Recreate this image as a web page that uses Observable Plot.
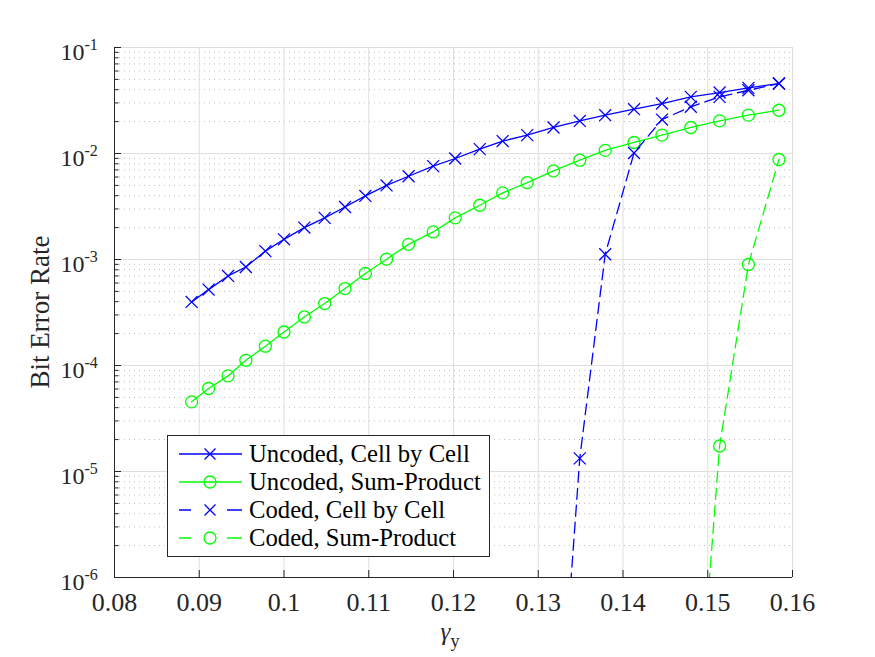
<!DOCTYPE html>
<html>
<head>
<meta charset="utf-8">
<script src="https://cdn.jsdelivr.net/npm/d3@7"></script>
<script src="https://cdn.jsdelivr.net/npm/@observablehq/plot@0.6"></script>
<style>
  html, body { margin: 0; padding: 0; background: #fff; }
  #chart svg { display: block; }
</style>
</head>
<body>
<div id="chart"></div>
<script>
// ---- data ----
const gamma = [0.0891,0.0911,0.0934,0.0955,0.0978,0.1000,0.1024,0.1048,0.1072,0.1096,0.1121,0.1147,0.1176,
               0.1202,0.1231,0.1258,0.1287,0.1318,0.1349,0.1379,0.1413,0.1446,0.1480,0.1514,0.1548,0.1584];
const uncodedCell = [3.98e-4,5.2e-4,7.0e-4,8.5e-4,1.2e-3,1.55e-3,2.0e-3,2.47e-3,3.13e-3,3.98e-3,5.0e-3,6.1e-3,7.6e-3,
                     8.97e-3,1.10e-2,1.31e-2,1.49e-2,1.76e-2,2.03e-2,2.30e-2,2.62e-2,2.96e-2,3.42e-2,3.76e-2,4.16e-2,4.57e-2];
const uncodedSP = [4.54e-5,6.07e-5,7.98e-5,1.12e-4,1.52e-4,2.07e-4,2.87e-4,3.84e-4,5.32e-4,7.38e-4,1.007e-3,1.39e-3,1.82e-3,
                   2.47e-3,3.25e-3,4.25e-3,5.32e-3,6.85e-3,8.65e-3,1.07e-2,1.27e-2,1.49e-2,1.76e-2,2.03e-2,2.30e-2,2.56e-2];
const codedCellGamma = [0.1318,0.1349,0.1379,0.1413,0.1446,0.1480,0.1514,0.1548,0.1584];
const codedCell = [5e-9,1.33e-5,1.12e-3,1.01e-2,2.09e-2,2.76e-2,3.42e-2,3.95e-2,4.57e-2];
const codedSPGamma = [0.1480,0.1514,0.1548,0.1584];
const codedSP = [5e-9,1.74e-5,8.97e-4,8.78e-3];

const seriesNames = ["Uncoded, Cell by Cell","Uncoded, Sum-Product","Coded, Cell by Cell","Coded, Sum-Product"];
const xTicks = [0.08,0.09,0.10,0.11,0.12,0.13,0.14,0.15,0.16];
const xTickLabels = ["0.08","0.09","0.1","0.11","0.12","0.13","0.14","0.15","0.16"];
const yMajor = [1e-6,1e-5,1e-4,1e-3,1e-2,1e-1];
const yExponents = ["-6","-5","-4","-3","-2","-1"];

const BLUE = "#0000ff", GREEN = "#00ff00", AX = "#262626";
const FONT = "'Liberation Serif', 'Times New Roman', serif";

const yMinor = [];
for (let e = -6; e < -1; e++) for (let m = 2; m <= 9; m++) yMinor.push(m * Math.pow(10, e));

const toRows = (xs, ys) => xs.map((x, i) => ({x, y: ys[i]}));
const s1 = toRows(gamma, uncodedCell);
const s2 = toRows(gamma, uncodedSP);
const s3 = toRows(codedCellGamma, codedCell);
const s4 = toRows(codedSPGamma, codedSP);
const xLab = xTicks.map((v, i) => ({v, t: xTickLabels[i]}));
const yLab = yMajor.map((v, i) => ({v, t: yExponents[i]}));

const W = 875, H = 657;
const chart = Plot.plot({
  width: W, height: H,
  marginLeft: 114, marginRight: 83, marginTop: 47, marginBottom: 80,
  style: {fontFamily: FONT, background: "white"},
  x: {domain: [0.08, 0.16], axis: null},
  y: {type: "log", domain: [1e-6, 1e-1], axis: null},
  marks: [
    Plot.ruleY(yMinor, {stroke: "#bdbdbd", strokeWidth: 1, strokeDasharray: "1,4"}),
    Plot.ruleY(yMajor, {stroke: "#dedede", strokeWidth: 1}),
    Plot.ruleX(xTicks, {stroke: "#dedede", strokeWidth: 1}),
    Plot.ruleX([0.08], {stroke: AX, strokeWidth: 1}),
    Plot.ruleY([1e-6], {stroke: AX, strokeWidth: 1}),
    Plot.axisY({ticks: yMajor, tickSize: -7, tickFormat: () => "", label: null, stroke: AX}),
    Plot.axisY({ticks: yMinor, tickSize: -4.5, tickFormat: () => "", label: null, stroke: AX}),
    Plot.axisX({ticks: xTicks, tickSize: -7, tickFormat: () => "", label: null, stroke: AX}),
    // data
    Plot.line(s1, {x: "x", y: "y", stroke: BLUE, strokeWidth: 1.3, clip: true}),
    Plot.dot(s1, {x: "x", y: "y", stroke: BLUE, symbol: "times", r: 5.5, strokeWidth: 1.3, clip: true}),
    Plot.line(s2, {x: "x", y: "y", stroke: GREEN, strokeWidth: 1.3, clip: true}),
    Plot.dot(s2, {x: "x", y: "y", stroke: GREEN, symbol: "circle", r: 6, strokeWidth: 1.3, clip: true}),
    Plot.line(s3, {x: "x", y: "y", stroke: BLUE, strokeWidth: 1.3, strokeDasharray: "11,6", clip: true}),
    Plot.dot(s3, {x: "x", y: "y", stroke: BLUE, symbol: "times", r: 5.5, strokeWidth: 1.3, clip: true}),
    Plot.line(s4, {x: "x", y: "y", stroke: GREEN, strokeWidth: 1.3, strokeDasharray: "11,6", clip: true}),
    Plot.dot(s4, {x: "x", y: "y", stroke: GREEN, symbol: "circle", r: 6, strokeWidth: 1.3, clip: true}),
    // tick labels
    Plot.text(xLab, {x: "v", y: () => 1e-6, text: "t", dy: 25, fontSize: 26, fill: AX}),
    Plot.text(yLab, {x: () => 0.08, y: "v", text: () => "10", dx: -30, dy: 5, textAnchor: "end", fontSize: 24, fill: AX}),
    Plot.text(yLab, {x: () => 0.08, y: "v", text: "t", dx: -30, dy: -3, textAnchor: "start", fontSize: 16, fill: AX})
  ]
});

const svg = d3.select(chart);
// axis titles
svg.append("text").attr("transform", "translate(40,312) rotate(-90)")
  .attr("text-anchor", "middle").attr("dy", "0.32em")
  .style("font-family", FONT).style("font-size", "27px").attr("fill", AX).text("Bit Error Rate");
const xl = svg.append("text").attr("x", 450).attr("y", 640).attr("text-anchor", "middle")
  .style("font-family", FONT).style("font-size", "25px").attr("fill", AX);
xl.append("tspan").style("font-style", "italic").text("γ");
xl.append("tspan").attr("dy", 7).style("font-size", "18px").text("y");

// legend
const lg = svg.append("g");
lg.append("rect").attr("x", 167.5).attr("y", 435.5).attr("width", 322).attr("height", 121)
  .attr("fill", "white").attr("stroke", AX).attr("stroke-width", 1);
const styles = [
  {c: BLUE, sym: "x", dash: null},
  {c: GREEN, sym: "o", dash: null},
  {c: BLUE, sym: "x", dash: "12,36,15"},
  {c: GREEN, sym: "o", dash: "12,36,15"}
];
seriesNames.forEach((name, i) => {
  const y = 454 + i * 28, st = styles[i];
  const ln = lg.append("line").attr("x1", 179).attr("x2", 242).attr("y1", y).attr("y2", y)
    .attr("stroke", st.c).attr("stroke-width", 1.3);
  if (st.dash) ln.attr("stroke-dasharray", st.dash);
  if (st.sym === "x") {
    lg.append("path").attr("d", `M${210-5.5},${y-5.5}L${210+5.5},${y+5.5}M${210-5.5},${y+5.5}L${210+5.5},${y-5.5}`)
      .attr("stroke", st.c).attr("stroke-width", 1.3).attr("fill", "none");
  } else {
    lg.append("circle").attr("cx", 210).attr("cy", y).attr("r", 6)
      .attr("stroke", st.c).attr("stroke-width", 1.3).attr("fill", "none");
  }
  lg.append("text").attr("x", 249).attr("y", y).attr("dy", "0.34em").attr("text-anchor", "start")
    .style("font-family", FONT).style("font-size", "24.7px").attr("fill", "#000").text(name);
});

document.getElementById("chart").appendChild(chart);
</script>
</body>
</html>
